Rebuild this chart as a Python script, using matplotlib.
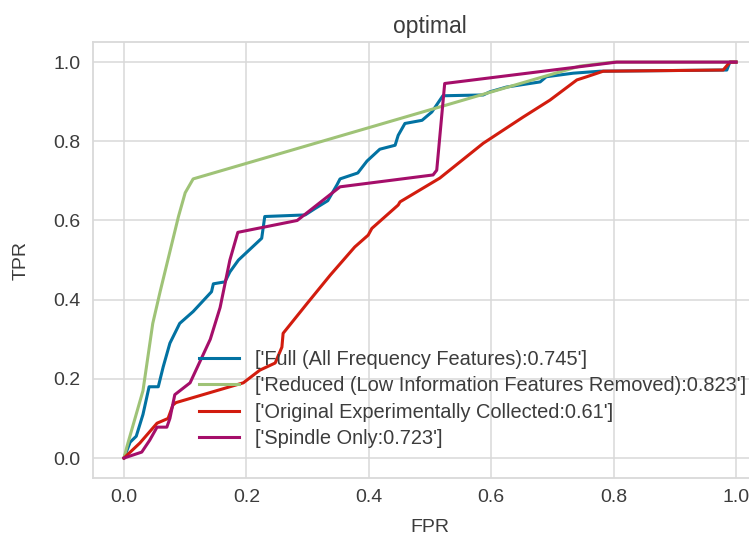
import matplotlib
matplotlib.use('Agg')
import matplotlib.pyplot as plt

# ==============================================================================
# STYLE (light grid, grey spines, Arial-like font)
# ==============================================================================
plt.rcParams['font.family'] = ['Liberation Sans', 'DejaVu Sans']
plt.rcParams['font.size'] = 14
plt.rcParams['text.color'] = '#3c3c3c'
plt.rcParams['axes.labelcolor'] = '#3c3c3c'
plt.rcParams['xtick.color'] = '#3c3c3c'
plt.rcParams['ytick.color'] = '#3c3c3c'

# ==============================================================================
# DATA (ROC curves)
# ==============================================================================
FULL_FPR = [0.0, 0.01, 0.02, 0.031, 0.041, 0.056, 0.064, 0.075, 0.091, 0.113, 0.143, 0.146,
            0.165, 0.173, 0.187, 0.225, 0.23, 0.296, 0.312, 0.333, 0.348, 0.353, 0.382, 0.397,
            0.418, 0.443, 0.448, 0.459, 0.487, 0.503, 0.521, 0.587, 0.598, 0.625, 0.68, 0.69,
            0.734, 0.778, 0.985, 0.99, 1.0]
FULL_TPR = [0.0, 0.04, 0.055, 0.11, 0.18, 0.18, 0.23, 0.29, 0.34, 0.37, 0.42, 0.44,
            0.445, 0.47, 0.50, 0.555, 0.61, 0.614, 0.63, 0.65, 0.69, 0.705, 0.72, 0.75,
            0.78, 0.79, 0.815, 0.845, 0.853, 0.874, 0.915, 0.917, 0.925, 0.937, 0.95, 0.963,
            0.972, 0.977, 0.98, 1.0, 1.0]

REDUCED_FPR = [0.0, 0.005, 0.031, 0.047, 0.059, 0.089, 0.1, 0.113, 0.745, 0.80, 1.0]
REDUCED_TPR = [0.0, 0.03, 0.17, 0.34, 0.42, 0.61, 0.67, 0.705, 0.99, 1.0, 1.0]

ORIGINAL_FPR = [0.0, 0.026, 0.054, 0.072, 0.08, 0.085, 0.195, 0.222, 0.247, 0.258, 0.26,
                0.299, 0.337, 0.377, 0.399, 0.405, 0.448, 0.451, 0.516, 0.587, 0.652, 0.696,
                0.74, 0.756, 0.783, 0.979, 0.99, 1.0]
ORIGINAL_TPR = [0.0, 0.038, 0.088, 0.10, 0.134, 0.14, 0.19, 0.222, 0.24, 0.28, 0.315,
                0.39, 0.462, 0.533, 0.563, 0.58, 0.639, 0.647, 0.707, 0.795, 0.861, 0.904,
                0.955, 0.963, 0.977, 0.98, 1.0, 1.0]

SPINDLE_FPR = [0.0, 0.029, 0.042, 0.054, 0.07, 0.075, 0.083, 0.108, 0.141, 0.157, 0.173,
               0.186, 0.283, 0.353, 0.505, 0.511, 0.524, 0.805, 1.0]
SPINDLE_TPR = [0.0, 0.015, 0.045, 0.078, 0.078, 0.1, 0.16, 0.19, 0.30, 0.38, 0.50,
               0.57, 0.60, 0.685, 0.715, 0.727, 0.946, 1.0, 1.0]

LABELS = ["['Full (All Frequency Features):0.745']",
          "['Reduced (Low Information Features Removed):0.823']",
          "['Original Experimentally Collected:0.61']",
          "['Spindle Only:0.723']"]
COLORS = ['#0272a2', '#9fc377', '#d21c0e', '#a50e6a']

# ==============================================================================
# FIGURE
# ==============================================================================
fig = plt.figure(figsize=(7.49, 5.39), dpi=100)
ax = fig.add_axes([0.1247, 0.1135, 0.8988, 0.808])

curves = [(FULL_FPR, FULL_TPR), (REDUCED_FPR, REDUCED_TPR),
          (ORIGINAL_FPR, ORIGINAL_TPR), (SPINDLE_FPR, SPINDLE_TPR)]
for (fpr, tpr), label, color in zip(curves, LABELS, COLORS):
    ax.plot(fpr, tpr, color=color, linewidth=2.2, label=label)

ax.set_xlim(-0.05, 1.05)
ax.set_ylim(-0.05, 1.05)
ax.set_xticks([0.0, 0.2, 0.4, 0.6, 0.8, 1.0])
ax.set_yticks([0.0, 0.2, 0.4, 0.6, 0.8, 1.0])
ax.tick_params(axis='both', length=0, labelsize=14)
ax.tick_params(axis='x', pad=8)
ax.tick_params(axis='y', pad=9.5)

ax.grid(True, color='#d9d9d9', linewidth=1.1)
ax.set_axisbelow(True)
for spine in ax.spines.values():
    spine.set_color('#d9d9d9')
    spine.set_linewidth(1.3)

ax.set_title('optimal', fontsize=16.5, pad=7)
ax.set_xlabel('FPR', fontsize=14)
ax.set_ylabel('TPR', fontsize=14)
ax.xaxis.set_label_coords(0.5, -0.095)
ax.yaxis.set_label_coords(-0.095, 0.5)

ax.legend(loc='lower left', bbox_to_anchor=(0.145, 0.05), borderaxespad=0,
          frameon=False, fontsize=14.4, labelspacing=0.37)

plt.savefig('out.png', dpi=100)
plt.close()
